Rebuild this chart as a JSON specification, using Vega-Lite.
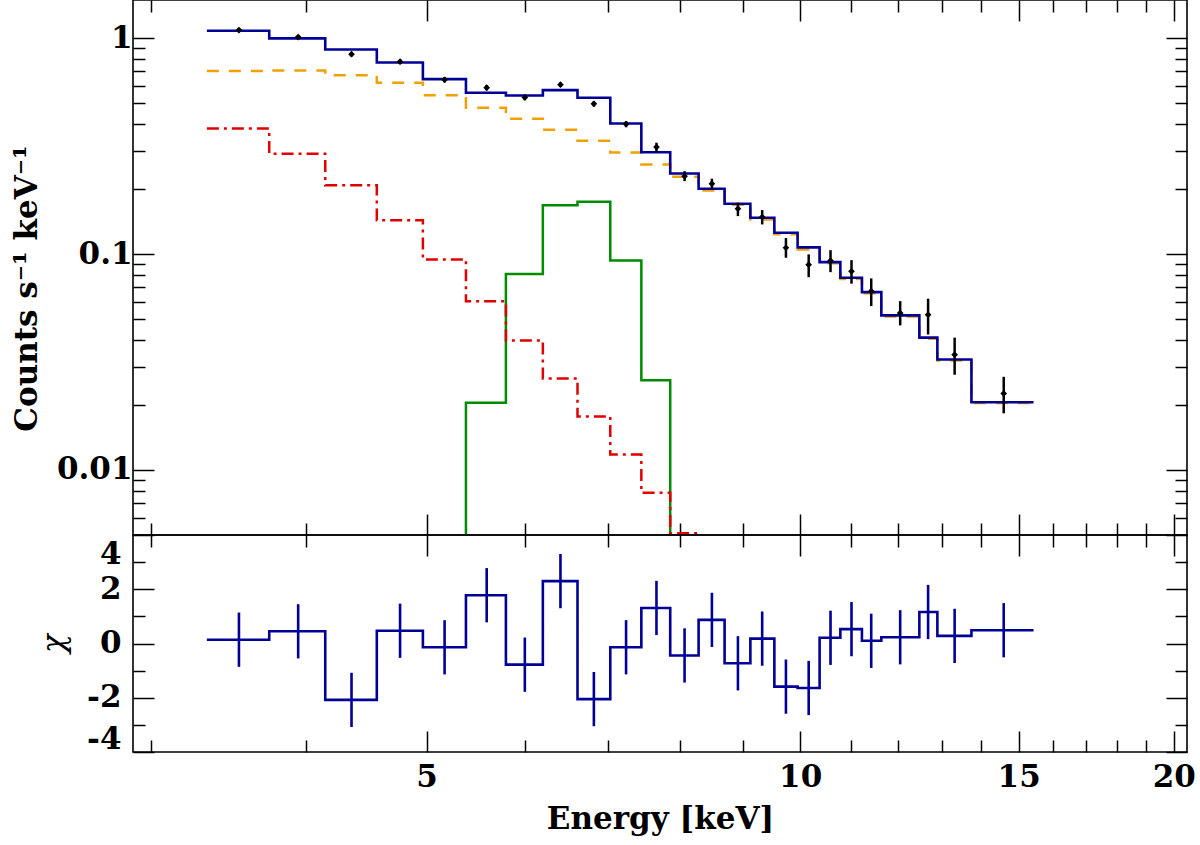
{
  "$schema": "https://vega.github.io/schema/vega-lite/v6.json",
  "background": "white",
  "padding": {"left": 10, "top": -2, "right": 5, "bottom": 5},
  "spacing": 0,
  "bounds": "flush",
  "config": {
    "view": {"stroke": "black", "strokeWidth": 1.6},
    "axis": {
      "domain": false,
      "grid": false,
      "tickColor": "black",
      "tickWidth": 1.5,
      "labelFont": "DejaVu Serif",
      "labelFontWeight": "bold",
      "labelFontSize": 31,
      "labelColor": "black",
      "titleFont": "DejaVu Serif",
      "titleFontWeight": "bold",
      "titleFontSize": 31,
      "titleColor": "black",
      "labelFlush": false,
      "labelOverlap": false
    }
  },
  "datasets": {
    "model": [
      {"E": 3.326, "tot": 1.081, "cont": 0.703, "refl": 0.3815},
      {"E": 3.734, "tot": 0.996, "cont": 0.707, "refl": 0.2913},
      {"E": 4.143, "tot": 0.885, "cont": 0.673, "refl": 0.2084},
      {"E": 4.559, "tot": 0.771, "cont": 0.621, "refl": 0.1435},
      {"E": 4.966, "tot": 0.645, "cont": 0.544, "refl": 0.0944, "line": 0.001},
      {"E": 5.379, "tot": 0.558, "cont": 0.476, "refl": 0.0605, "line": 0.0205},
      {"E": 5.793, "tot": 0.542, "cont": 0.423, "refl": 0.0398, "line": 0.0807},
      {"E": 6.204, "tot": 0.574, "cont": 0.376, "refl": 0.0265, "line": 0.168},
      {"E": 6.616, "tot": 0.529, "cont": 0.3346, "refl": 0.0177, "line": 0.1746},
      {"E": 7.031, "tot": 0.402, "cont": 0.2953, "refl": 0.0118, "line": 0.0934},
      {"E": 7.448, "tot": 0.296, "cont": 0.26, "refl": 0.00785, "line": 0.026},
      {"E": 7.858, "tot": 0.236, "cont": 0.228, "refl": 0.0051, "line": 0.001},
      {"E": 8.283, "tot": 0.2006, "cont": 0.197, "refl": 0.0051},
      {"E": 8.692, "tot": 0.171, "cont": 0.169},
      {"E": 9.118, "tot": 0.1473, "cont": 0.1446},
      {"E": 9.533, "tot": 0.1255, "cont": 0.1235},
      {"E": 9.953, "tot": 0.1073, "cont": 0.105},
      {"E": 10.368, "tot": 0.0917, "cont": 0.0905},
      {"E": 10.775, "tot": 0.0777, "cont": 0.0767},
      {"E": 11.215, "tot": 0.0666, "cont": 0.0658},
      {"E": 11.626, "tot": 0.052, "cont": 0.0514},
      {"E": 12.476, "tot": 0.041, "cont": 0.0405},
      {"E": 12.9, "tot": 0.0325, "cont": 0.0321},
      {"E": 13.742, "tot": 0.0206, "cont": 0.0204},
      {"E": 15.42, "tot": 0.0206, "cont": 0.0204}
    ],
    "pts": [
      {"E": 3.53, "y": 1.088, "lo": 1.061, "hi": 1.115, "chi": 0.14, "clo": -0.86, "chi2": 1.14},
      {"E": 3.94, "y": 1.01, "lo": 0.985, "hi": 1.035, "chi": 0.45, "clo": -0.55, "chi2": 1.45},
      {"E": 4.35, "y": 0.842, "lo": 0.821, "hi": 0.863, "chi": -2.08, "clo": -3.08, "chi2": -1.08},
      {"E": 4.76, "y": 0.777, "lo": 0.757, "hi": 0.797, "chi": 0.47, "clo": -0.53, "chi2": 1.47},
      {"E": 5.17, "y": 0.641, "lo": 0.623, "hi": 0.659, "chi": -0.14, "clo": -1.14, "chi2": 0.86},
      {"E": 5.59, "y": 0.589, "lo": 0.572, "hi": 0.606, "chi": 1.78, "clo": 0.78, "chi2": 2.78},
      {"E": 6.0, "y": 0.531, "lo": 0.515, "hi": 0.547, "chi": -0.78, "clo": -1.78, "chi2": 0.22},
      {"E": 6.41, "y": 0.608, "lo": 0.593, "hi": 0.623, "chi": 2.3, "clo": 1.3, "chi2": 3.3},
      {"E": 6.82, "y": 0.496, "lo": 0.482, "hi": 0.51, "chi": -2.05, "clo": -3.05, "chi2": -1.05},
      {"E": 7.24, "y": 0.3995, "lo": 0.3865, "hi": 0.4125, "chi": -0.14, "clo": -1.14, "chi2": 0.86},
      {"E": 7.66, "y": 0.3126, "lo": 0.296, "hi": 0.3276, "chi": 1.31, "clo": 0.31, "chi2": 2.31},
      {"E": 8.07, "y": 0.2294, "lo": 0.2175, "hi": 0.2419, "chi": -0.44, "clo": -1.44, "chi2": 0.56},
      {"E": 8.49, "y": 0.2116, "lo": 0.2006, "hi": 0.2232, "chi": 0.87, "clo": -0.13, "chi2": 1.87},
      {"E": 8.91, "y": 0.1621, "lo": 0.1498, "hi": 0.1728, "chi": -0.73, "clo": -1.73, "chi2": 0.27},
      {"E": 9.32, "y": 0.1482, "lo": 0.1371, "hi": 0.1597, "chi": 0.18, "clo": -0.82, "chi2": 1.18},
      {"E": 9.74, "y": 0.1069, "lo": 0.0961, "hi": 0.1185, "chi": -1.59, "clo": -2.59, "chi2": -0.59},
      {"E": 10.16, "y": 0.0892, "lo": 0.0781, "hi": 0.0996, "chi": -1.64, "clo": -2.64, "chi2": -0.64},
      {"E": 10.58, "y": 0.0931, "lo": 0.0824, "hi": 0.1042, "chi": 0.21, "clo": -0.79, "chi2": 1.21},
      {"E": 11.0, "y": 0.0831, "lo": 0.0729, "hi": 0.0937, "chi": 0.53, "clo": -0.47, "chi2": 1.53},
      {"E": 11.41, "y": 0.0673, "lo": 0.0574, "hi": 0.0771, "chi": 0.1, "clo": -0.9, "chi2": 1.1},
      {"E": 12.04, "y": 0.0533, "lo": 0.0467, "hi": 0.0605, "chi": 0.23, "clo": -0.77, "chi2": 1.23},
      {"E": 12.68, "y": 0.0524, "lo": 0.0424, "hi": 0.0621, "chi": 1.16, "clo": 0.16, "chi2": 2.16},
      {"E": 13.32, "y": 0.0342, "lo": 0.0276, "hi": 0.041, "chi": 0.28, "clo": -0.72, "chi2": 1.28},
      {"E": 14.59, "y": 0.0226, "lo": 0.0183, "hi": 0.027, "chi": 0.49, "clo": -0.51, "chi2": 1.49}
    ],
    "res": [
      {"E": 3.326, "chi": 0.14},
      {"E": 3.734, "chi": 0.45},
      {"E": 4.143, "chi": -2.08},
      {"E": 4.559, "chi": 0.47},
      {"E": 4.966, "chi": -0.14},
      {"E": 5.379, "chi": 1.78},
      {"E": 5.793, "chi": -0.78},
      {"E": 6.204, "chi": 2.3},
      {"E": 6.616, "chi": -2.05},
      {"E": 7.031, "chi": -0.14},
      {"E": 7.448, "chi": 1.31},
      {"E": 7.858, "chi": -0.44},
      {"E": 8.283, "chi": 0.87},
      {"E": 8.692, "chi": -0.73},
      {"E": 9.118, "chi": 0.18},
      {"E": 9.533, "chi": -1.59},
      {"E": 9.953, "chi": -1.64},
      {"E": 10.368, "chi": 0.21},
      {"E": 10.775, "chi": 0.53},
      {"E": 11.215, "chi": 0.1},
      {"E": 11.626, "chi": 0.23},
      {"E": 12.476, "chi": 1.16},
      {"E": 12.9, "chi": 0.28},
      {"E": 13.742, "chi": 0.49},
      {"E": 15.42, "chi": 0.49}
    ]
  },
  "vconcat": [
    {
      "width": 1054,
      "height": 535,
      "resolve": {"axis": {"x": "independent", "y": "independent"}},
      "layer": [
        {
          "data": {"name": "model"},
          "mark": {"type": "line", "interpolate": "step-after", "color": "#008C00", "strokeWidth": 2.5, "clip": true},
          "encoding": {
            "x": {"field": "E", "type": "quantitative", "scale": {"type": "log", "domain": [2.9, 20.5], "nice": false}, "axis": null},
            "y": {"field": "line", "type": "quantitative", "scale": {"type": "log", "domain": [0.005, 1.5], "nice": false}, "axis": null}
          }
        },
        {
          "data": {"name": "model"},
          "mark": {"type": "line", "interpolate": "step-after", "color": "#E00000", "strokeWidth": 2.5, "strokeDash": [12, 5, 3, 5], "clip": true},
          "encoding": {
            "x": {"field": "E", "type": "quantitative", "scale": {"type": "log", "domain": [2.9, 20.5], "nice": false}, "axis": null},
            "y": {"field": "refl", "type": "quantitative", "scale": {"type": "log", "domain": [0.005, 1.5], "nice": false}, "axis": null}
          }
        },
        {
          "data": {"name": "model"},
          "mark": {"type": "line", "interpolate": "step-after", "color": "#F2A000", "strokeWidth": 2.5, "strokeDash": [12, 10], "clip": true},
          "encoding": {
            "x": {"field": "E", "type": "quantitative", "scale": {"type": "log", "domain": [2.9, 20.5], "nice": false}, "axis": null},
            "y": {"field": "cont", "type": "quantitative", "scale": {"type": "log", "domain": [0.005, 1.5], "nice": false}, "axis": null}
          }
        },
        {
          "data": {"name": "model"},
          "mark": {"type": "line", "interpolate": "step-after", "color": "#000096", "strokeWidth": 2.6, "clip": true},
          "encoding": {
            "x": {
              "field": "E", "type": "quantitative",
              "scale": {"type": "log", "domain": [2.9, 20.5], "nice": false},
              "axis": {
                "orient": "bottom",
                "values": [3, 4, 5, 6, 7, 8, 9, 10, 11, 12, 13, 14, 15, 16, 17, 18, 19, 20],
                "labels": false,
                "title": null,
                "tickSize": {"condition": {"test": "datum.value % 5 == 0", "value": -21}, "value": -12}
              }
            },
            "y": {
              "field": "tot", "type": "quantitative",
              "scale": {"type": "log", "domain": [0.005, 1.5], "nice": false},
              "axis": {
                "orient": "left",
                "values": [0.006, 0.007, 0.008, 0.009, 0.01, 0.02, 0.03, 0.04, 0.05, 0.06, 0.07, 0.08, 0.09, 0.1, 0.2, 0.3, 0.4, 0.5, 0.6, 0.7, 0.8, 0.9, 1],
                "labelExpr": "datum.value == 1 ? '1' : datum.value == 0.1 ? '0.1' : datum.value == 0.01 ? '0.01' : ''",
                "tickSize": {"condition": {"test": "datum.value == 1 || datum.value == 0.1 || datum.value == 0.01", "value": -21}, "value": -12},
                "labelPadding": 22,
                "title": "Counts s⁻¹ keV⁻¹",
                "titleFontSize": 31,
                "titleX": -106,
                "titleY": 288,
                "titleAngle": 270,
                "titleBaseline": "middle",
                "titleAlign": "center"
              }
            }
          }
        },
        {
          "data": {"name": "pts"},
          "mark": {"type": "rule", "color": "black", "strokeWidth": 2.5},
          "encoding": {
            "x": {"field": "E", "type": "quantitative", "scale": {"type": "log", "domain": [2.9, 20.5], "nice": false}, "axis": null},
            "y": {"field": "lo", "type": "quantitative", "scale": {"type": "log", "domain": [0.005, 1.5], "nice": false}, "axis": null},
            "y2": {"field": "hi"}
          }
        },
        {
          "data": {"name": "pts"},
          "mark": {"type": "point", "shape": "diamond", "filled": true, "color": "black", "size": 45, "opacity": 1},
          "encoding": {
            "x": {
              "field": "E", "type": "quantitative",
              "scale": {"type": "log", "domain": [2.9, 20.5], "nice": false},
              "axis": {
                "orient": "top",
                "values": [3, 4, 5, 6, 7, 8, 9, 10, 11, 12, 13, 14, 15, 16, 17, 18, 19, 20],
                "labels": false,
                "title": null,
                "tickSize": {"condition": {"test": "datum.value % 5 == 0", "value": -21}, "value": -12}
              }
            },
            "y": {
              "field": "y", "type": "quantitative",
              "scale": {"type": "log", "domain": [0.005, 1.5], "nice": false},
              "axis": {
                "orient": "right",
                "values": [0.006, 0.007, 0.008, 0.009, 0.01, 0.02, 0.03, 0.04, 0.05, 0.06, 0.07, 0.08, 0.09, 0.1, 0.2, 0.3, 0.4, 0.5, 0.6, 0.7, 0.8, 0.9, 1],
                "labels": false,
                "title": null,
                "tickSize": {"condition": {"test": "datum.value == 1 || datum.value == 0.1 || datum.value == 0.01", "value": -21}, "value": -12}
              }
            }
          }
        }
      ]
    },
    {
      "width": 1054,
      "height": 217,
      "resolve": {"axis": {"x": "independent", "y": "independent"}},
      "layer": [
        {
          "data": {"name": "res"},
          "mark": {"type": "line", "interpolate": "step-after", "color": "#000096", "strokeWidth": 2.6},
          "encoding": {
            "x": {
              "field": "E", "type": "quantitative",
              "scale": {"type": "log", "domain": [2.9, 20.5], "nice": false},
              "axis": {
                "orient": "bottom",
                "values": [3, 4, 5, 6, 7, 8, 9, 10, 11, 12, 13, 14, 15, 16, 17, 18, 19, 20],
                "labelExpr": "datum.value % 5 == 0 ? '' + datum.value : ''",
                "tickSize": {"condition": {"test": "datum.value % 5 == 0", "value": -21}, "value": -12},
                "labelPadding": 31,
                "title": "Energy [keV]",
                "titlePadding": 3
              }
            },
            "y": {
              "field": "chi", "type": "quantitative",
              "scale": {"domain": [-4, 4], "nice": false, "zero": false},
              "axis": {
                "orient": "left",
                "values": [-4, -3, -2, -1, 0, 1, 2, 3, 4],
                "labelExpr": "datum.value % 2 == 0 ? '' + datum.value : ''",
                "tickSize": {"condition": {"test": "datum.value % 2 == 0", "value": -21}, "value": -12},
                "labelPadding": 33,
                "labelOffset": {"condition": [{"test": "datum.value == 4", "value": 19}, {"test": "datum.value == -4", "value": -13}], "value": 0},
                "title": "χ",
                "titleFontStyle": "italic",
                "titleFontWeight": "normal",
                "titleX": -79,
                "titleY": 108,
                "titleAngle": 270,
                "titleBaseline": "middle",
                "titleAlign": "center"
              }
            }
          }
        },
        {
          "data": {"name": "pts"},
          "mark": {"type": "rule", "color": "#000096", "strokeWidth": 2.6},
          "encoding": {
            "x": {
              "field": "E", "type": "quantitative",
              "scale": {"type": "log", "domain": [2.9, 20.5], "nice": false},
              "axis": {
                "orient": "top",
                "values": [3, 4, 5, 6, 7, 8, 9, 10, 11, 12, 13, 14, 15, 16, 17, 18, 19, 20],
                "labels": false,
                "title": null,
                "tickSize": {"condition": {"test": "datum.value % 5 == 0", "value": -21}, "value": -12}
              }
            },
            "y": {
              "field": "clo", "type": "quantitative",
              "scale": {"domain": [-4, 4], "nice": false, "zero": false},
              "axis": {
                "orient": "right",
                "values": [-4, -3, -2, -1, 0, 1, 2, 3, 4],
                "labels": false,
                "title": null,
                "tickSize": {"condition": {"test": "datum.value % 2 == 0", "value": -21}, "value": -12}
              }
            },
            "y2": {"field": "chi2"}
          }
        }
      ]
    }
  ]
}
